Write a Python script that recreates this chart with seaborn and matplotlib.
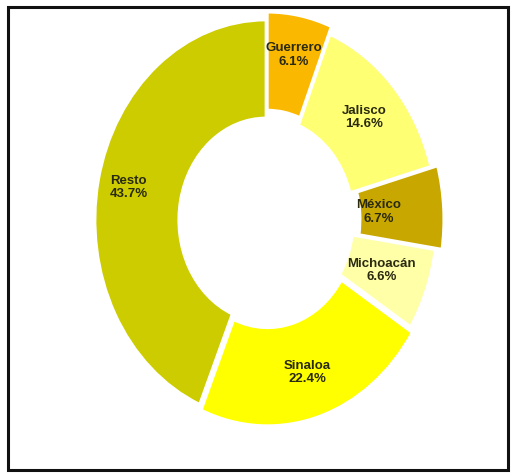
import matplotlib
matplotlib.use("Agg")
import matplotlib.pyplot as plt
from matplotlib.patches import Rectangle
import numpy as np
import seaborn as sns

sns.set_theme(style="white")
plt.rcParams['font.family'] = ['Liberation Sans Narrow', 'Liberation Sans', 'DejaVu Sans']

states = ["Guerrero", "Jalisco", "México", "Michoacán", "Sinaloa", "Resto"]
shares = [6.1, 14.6, 6.7, 6.6, 22.4, 43.7]
pct_labels = ["6.1%", "14.6%", "6.7%", "6.6%", "22.4%", "43.7%"]
colors = ["#FBB800", "#FFFF73", "#C8A800", "#FFFFA8", "#FFFF00", "#CCCC00"]
explode = [0.04, 0.0, 0.04, 0.0, 0.03, 0.0]
label_r = [0.80, 0.77, 0.62, 0.72, 0.77, 0.82]

W, H = 511, 476
fig = plt.figure(figsize=(W / 100, H / 100), dpi=100)
fig.patch.set_facecolor("white")

# axes geometry (pixels): center (266, 220), rx 171, ry 200
cx, cy, rx, ry = 266, 220, 171, 200
xl, yl = 1.25, 1.1
ax = fig.add_axes([(cx - xl * rx) / W, (H - cy - yl * ry) / H, 2 * xl * rx / W, 2 * yl * ry / H])

wedges, _ = ax.pie(shares, colors=colors, startangle=90, counterclock=False,
                   explode=explode, radius=1.0,
                   wedgeprops=dict(width=0.49, edgecolor="white", linewidth=2.0))
ax.set_aspect("auto")
ax.set_xlim(-xl, xl)
ax.set_ylim(-yl, yl)
ax.axis("off")

for w, name, pct, r in zip(wedges, states, pct_labels, label_r):
    ang = np.deg2rad((w.theta1 + w.theta2) / 2)
    x = w.center[0] + r * np.cos(ang)
    y = w.center[1] + r * np.sin(ang)
    ax.text(x, y, f"{name}\n{pct}", ha="center", va="center", fontsize=9.5,
            fontweight="bold", color="#2a2a10", linespacing=1.15)

fig.patches.append(Rectangle((8 / W, (H - 470) / H), 500 / W, 463 / H,
                             transform=fig.transFigure, fill=False,
                             edgecolor="#111111", linewidth=2.2))

fig.savefig("out.png", dpi=100)
